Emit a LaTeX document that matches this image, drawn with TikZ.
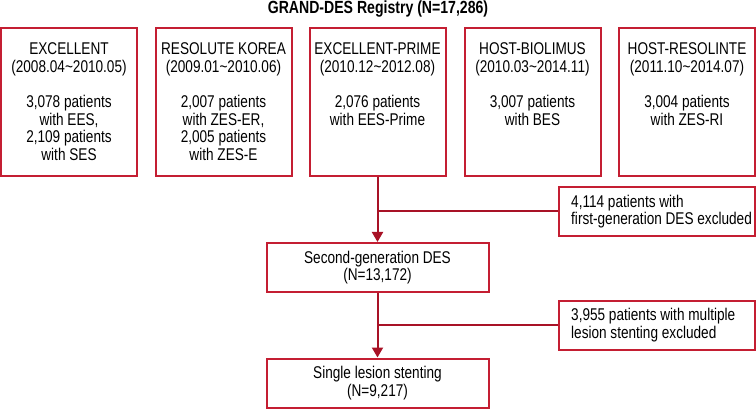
\documentclass[tikz,border=0pt]{standalone}
\usepackage{fontspec}
\setmainfont{Liberation Sans}[FakeStretch=0.8]
\usetikzlibrary{arrows.meta}
\definecolor{boxred}{RGB}{196,30,50}
\definecolor{linered}{RGB}{168,18,38}
\begin{document}
\begin{tikzpicture}[x=1pt,y=-1pt,
  font=\fontsize{17}{17.6}\selectfont,
  box/.style={draw=boxred, line width=2pt, rectangle, inner sep=0pt},
  topbox/.style={box, minimum width=136pt, minimum height=148pt},
  midbox/.style={box, minimum width=222pt, minimum height=49pt, align=center},
  exbox/.style={box, minimum width=196pt, minimum height=49pt},
  toptxt/.style={align=center, inner sep=0pt, anchor=north},
  extxt/.style={align=left, inner sep=0pt, anchor=west},
  flow/.style={draw=linered, line width=2pt},
  arr/.style={flow, -{Triangle[length=10pt,width=11pt]}}]
\useasboundingbox (0,0) rectangle (756,409);

\node[font=\fontsize{17.6}{20}\selectfont\bfseries, anchor=base, inner sep=0pt] (title) at (378,14) {GRAND-DES Registry (N=17,286)};

% top boxes
\node[topbox] (b1) at (69,102) {};
\node[topbox] (b2) at (223.5,102) {};
\node[topbox] (b3) at (377.5,102) {};
\node[topbox] (b4) at (532.5,102) {};
\node[topbox] (b5) at (687,102) {};

\node[toptxt] (t1) at (69,42.5) {EXCELLENT\\(2008.04\textasciitilde2010.05)\\[18pt]3,078 patients\\with EES,\\2,109 patients\\with SES};
\node[toptxt] (t2) at (223.5,42.5) {RESOLUTE KOREA\\(2009.01\textasciitilde2010.06)\\[18pt]2,007 patients\\with ZES-ER,\\2,005 patients\\with ZES-E};
\node[toptxt] (t3) at (377.5,42.5) {EXCELLENT-PRIME\\(2010.12\textasciitilde2012.08)\\[18pt]2,076 patients\\with EES-Prime};
\node[toptxt] (t4) at (532.5,42.5) {HOST-BIOLIMUS\\(2010.03\textasciitilde2014.11)\\[18pt]3,007 patients\\with BES};
\node[toptxt] (t5) at (687,42.5) {HOST-RESOLINTE\\(2011.10\textasciitilde2014.07)\\[18pt]3,004 patients\\with ZES-RI};

% flow boxes
\node[midbox] (sg) at (377.5,267.5) {Second-generation DES\\(N=13,172)};
\node[midbox] (sl) at (377.5,383) {Single lesion stenting\\(N=9,217)};

% exclusion boxes
\node[exbox] (ex1) at (657,211.5) {};
\node[extxt] (ex1t) at ([xshift=13pt]ex1.west) {4,114 patients with\\first-generation DES excluded};
\node[exbox] (ex2) at (657,325) {};
\node[extxt] (ex2t) at ([xshift=13pt]ex2.west) {3,955 patients with multiple\\lesion stenting excluded};

% connectors
\draw[arr] (b3.south) -- (sg.north);
\draw[flow] (ex1.west) -- (ex1.west -| b3.south);
\draw[arr] (sg.south) -- (sl.north);
\draw[flow] (ex2.west) -- (ex2.west -| sg.south);
\end{tikzpicture}
\end{document}
